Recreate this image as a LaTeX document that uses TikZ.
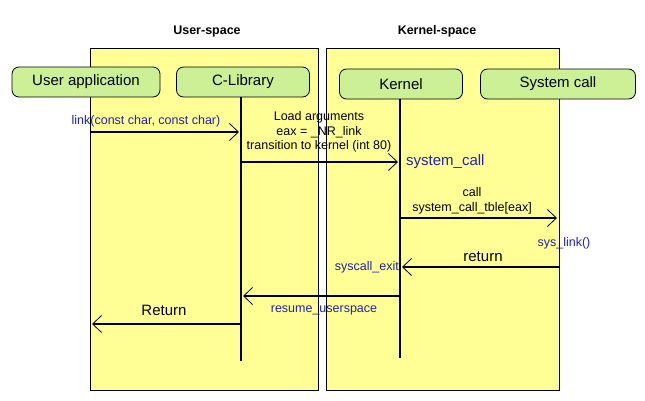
\documentclass[tikz,border=0pt]{standalone}
\usepackage{fontspec}
\setmainfont{Liberation Sans}
\usetikzlibrary{arrows.meta}
\definecolor{spaceyellow}{RGB}{255,255,150}
\definecolor{partgreen}{RGB}{204,240,150}
\definecolor{calltext}{RGB}{35,35,165}

\begin{document}
\begin{tikzpicture}[x=1pt, y=-1pt,
    space/.style={draw, fill=spaceyellow, line width=1pt},
    title/.style={font=\bfseries\fontsize{12.5}{14}\selectfont},
    part/.style={draw, fill=partgreen, rounded corners=7pt, line width=0.8pt,
      minimum height=30pt, inner sep=0pt, font=\fontsize{15}{16}\selectfont},
    life/.style={line width=1.6pt},
    msg/.style={line width=1.6pt, shorten >=2pt,
      -{Straight Barb[length=9pt, width=17pt, line width=0.8pt]}},
    note/.style={font=\fontsize{12.5}{14.5}\selectfont, align=center, inner sep=0pt},
    big/.style={font=\fontsize{15}{16}\selectfont, inner sep=0pt},
    fn/.style={text=calltext}]
  \useasboundingbox (0,0) rectangle (645,400);

  % the two spaces
  \draw[space] (90,48) rectangle (318,390);
  \draw[space] (326,48) rectangle (559,390);
  \node[title] (userspace) at (207,31) {User-space};
  \node[title] (kernelspace) at (437,31) {Kernel-space};

  % the parts
  \node[part, minimum width=148pt] (app) at (86,82) {User application};
  \node[part, minimum width=133pt] (lib) at (243,82) {C-Library};
  \node[part, minimum width=123pt] (kernel) at (401,84) {Kernel};
  \node[part, minimum width=155pt] (syscall) at (558,84) {System call};

  \coordinate (libline) at (241,97);
  \coordinate (kernline) at (400,99);
  \coordinate (sysline) at (559,99);
  \draw[life] (libline) -- (libline |- 0,361);
  \draw[life] (kernline) -- (kernline |- 0,358);

  % calls down into the kernel
  \coordinate (appcall) at (90,132);
  \draw[msg] (appcall) -- (appcall -| libline);
  \node[note, fn] (linkcall) at (146,121) {link(const char, const char)};

  \coordinate (libcall) at (241,162);
  \draw[msg] (libcall) -- (libcall -| kernline);
  \node[note] (trap) at (319,132) {Load arguments\\eax = \_NR\_link\\transition to kernel (int 80)};
  \node[big, fn, anchor=west] (entry) at (406,162) {system\_call};

  \coordinate (kerncall) at (400,218);
  \draw[msg] (kerncall) -- (kerncall -| sysline);
  \node[note] (table) at (472,201) {call\\system\_call\_tble[eax]};
  \node[note, fn] (syslink) at (564,243) {sys\_link()};

  % and back up again
  \coordinate (sysret) at (559,267);
  \draw[msg] (sysret) -- (sysret -| kernline);
  \node[big] (ret) at (483,257) {return};
  \node[note, fn, anchor=east] (exit) at (399,267) {syscall\_exit};

  \coordinate (kernret) at (400,296);
  \draw[msg] (kernret) -- (kernret -| libline);
  \node[note, fn] (resume) at (324,310) {resume\_userspace};

  \coordinate (libret) at (241,324);
  \draw[msg] (libret) -- (libret -| 90,0);
  \node[big] (back) at (164,310) {Return};
\end{tikzpicture}
\end{document}
